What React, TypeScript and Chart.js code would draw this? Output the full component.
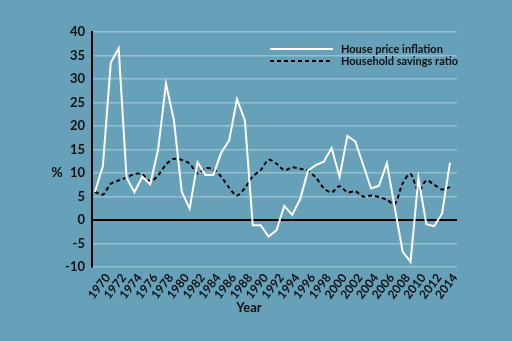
import { useEffect, useRef } from 'react';
import { Chart, registerables } from 'chart.js';

Chart.register(...registerables);

const years = [
  1969, 1970, 1971, 1972, 1973, 1974, 1975, 1976, 1977, 1978,
  1979, 1980, 1981, 1982, 1983, 1984, 1985, 1986, 1987, 1988,
  1989, 1990, 1991, 1992, 1993, 1994, 1995, 1996, 1997, 1998,
  1999, 2000, 2001, 2002, 2003, 2004, 2005, 2006, 2007, 2008,
  2009, 2010, 2011, 2012, 2013, 2014,
];

const housePriceInflation = [
  6.0, 11.5, 33.5, 36.5, 9.0, 5.9, 9.2, 7.6, 15.0, 29.0,
  21.3, 6.0, 2.4, 12.3, 9.6, 9.6, 14.3, 16.9, 25.7, 21.2,
  -1.1, -1.1, -3.5, -2.2, 3.0, 1.1, 4.4, 10.5, 11.7, 12.4,
  15.3, 9.2, 17.9, 16.7, 11.7, 6.7, 7.3, 12.1, 2.6, -6.7,
  -8.9, 8.9, -0.9, -1.3, 1.4, 12.2,
];

const householdSavingsRatio = [
  6.0, 5.4, 7.7, 8.4, 9.0, 9.8, 9.7, 8.2, 9.5, 11.8,
  13.0, 12.8, 12.0, 9.9, 11.0, 10.8, 9.2, 6.9, 5.2, 6.8,
  9.3, 10.6, 12.8, 12.0, 10.6, 11.2, 10.9, 10.5, 9.0, 6.8,
  5.9, 7.2, 5.9, 6.1, 5.0, 5.2, 4.9, 4.3, 3.4, 7.8,
  9.8, 6.2, 8.4, 7.5, 6.5, 7.0,
];

const xTickYears = [
  1970, 1972, 1974, 1976, 1978, 1980, 1982, 1984, 1986, 1988, 1990, 1992,
  1994, 1996, 1998, 2000, 2002, 2004, 2006, 2008, 2010, 2012, 2014,
];

const yMin = -10;
const yMax = 40;
const yStep = 5;

const seriesNames = ['House price inflation', 'Household savings ratio'];
const xTitle = 'Year';
const yTitle = '%';

const FONT = 'Lato, "Noto Sans", sans-serif';
const BG = '#67a0b9';
const GRID = '#93bfd1';
const INK = '#111111';

export default function App() {
  const ref = useRef<HTMLCanvasElement | null>(null);

  useEffect(() => {
    document.body.style.margin = '0';
    const canvas = ref.current;
    if (!canvas) return;

    const overlay = {
      id: 'overlay',
      afterDraw(chart: any) {
        const ctx = chart.ctx as CanvasRenderingContext2D;
        const area = chart.chartArea;
        ctx.save();
        // legend
        const lx0 = area.left + 178;
        const lx1 = lx0 + 63;
        const ly0 = area.top + 17;
        const ly1 = ly0 + 12;
        ctx.lineWidth = 2.2;
        ctx.strokeStyle = '#ffffff';
        ctx.setLineDash([]);
        ctx.beginPath();
        ctx.moveTo(lx0, ly0);
        ctx.lineTo(lx1, ly0);
        ctx.stroke();
        ctx.strokeStyle = '#000000';
        ctx.setLineDash([4, 3]);
        ctx.beginPath();
        ctx.moveTo(lx0, ly1);
        ctx.lineTo(lx1, ly1);
        ctx.stroke();
        ctx.setLineDash([]);
        ctx.fillStyle = INK;
        ctx.font = `bold 11px ${FONT}`;
        ctx.textAlign = 'left';
        ctx.textBaseline = 'middle';
        ctx.fillText(seriesNames[0], lx1 + 8, ly0);
        ctx.fillText(seriesNames[1], lx1 + 8, ly1);
        // axis titles
        ctx.font = `bold 14px ${FONT}`;
        ctx.textAlign = 'center';
        ctx.fillText(yTitle, 57, 172);
        ctx.font = `bold 13px ${FONT}`;
        ctx.fillText(xTitle, 249, 308);
        ctx.restore();
      },
    };

    const chart = new Chart(canvas, {
      type: 'line',
      data: {
        datasets: [
          {
            label: seriesNames[0],
            data: years.map((y, i) => ({ x: y, y: housePriceInflation[i] })),
            borderColor: '#ffffff',
            borderWidth: 2,
            pointRadius: 0,
            tension: 0,
            fill: false,
          },
          {
            label: seriesNames[1],
            data: years.map((y, i) => ({ x: y, y: householdSavingsRatio[i] })),
            borderColor: '#000000',
            borderWidth: 2,
            borderDash: [4, 3],
            pointRadius: 0,
            tension: 0.3,
            fill: false,
          },
        ],
      },
      options: {
        responsive: false,
        animation: false,
        layout: { padding: { top: 32, right: 55, left: 0, bottom: 0 } },
        plugins: {
          legend: { display: false },
          tooltip: { enabled: false },
          title: { display: false },
        },
        scales: {
          x: {
            type: 'linear',
            min: 1968.62,
            max: 2014.89,
            afterBuildTicks: (axis: any) => {
              axis.ticks = xTickYears.map((v) => ({ value: v }));
            },
            afterFit: (scale: any) => {
              scale.height = 74;
            },
            grid: { display: false, drawTicks: false },
            border: { display: false },
            ticks: {
              autoSkip: false,
              minRotation: 52,
              maxRotation: 52,
              padding: 4,
              labelOffset: 5,
              color: INK,
              font: { family: FONT, size: 12, weight: 'bold' },
              callback: (v: any) => String(v),
            },
          },
          y: {
            min: yMin,
            max: yMax,
            afterFit: (scale: any) => {
              scale.width = 92;
            },
            ticks: {
              stepSize: yStep,
              padding: 7,
              color: INK,
              font: { family: FONT, size: 13, weight: 'bold' },
            },
            grid: {
              drawTicks: false,
              color: (c: any) => (c.tick && c.tick.value === 0 ? '#000000' : GRID),
              lineWidth: (c: any) => (c.tick && c.tick.value === 0 ? 2 : 1.5),
            },
            border: { display: true, color: '#000000', width: 2 },
          },
        },
      },
      plugins: [overlay],
    } as any);

    return () => chart.destroy();
  }, []);

  return (
    <div style={{ position: 'fixed', left: 0, top: 0, width: 512, height: 341, background: BG }}>
      <canvas ref={ref} width={512} height={341} style={{ display: 'block', width: 512, height: 341 }} />
    </div>
  );
}
